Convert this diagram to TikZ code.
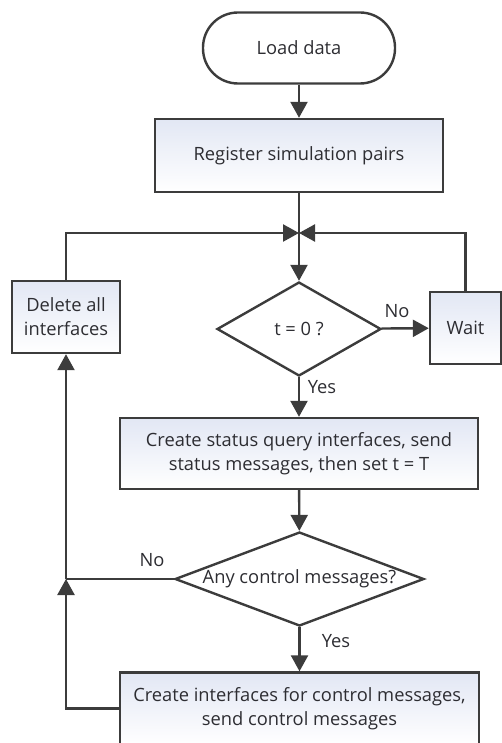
\documentclass[tikz,border=0pt]{standalone}
\usepackage{fontspec}
\setmainfont{Open Sans}
\usetikzlibrary{arrows.meta,shapes.geometric,calc}
\definecolor{ln}{RGB}{60,60,60}
\definecolor{tx}{RGB}{45,45,50}
\definecolor{boxtop}{RGB}{226,231,244}
\begin{document}
\begin{tikzpicture}[x=1pt,y=1pt,
  every node/.style={font=\fontsize{18.3}{24}\selectfont, text=tx},
  flowline/.style={draw=ln, line width=2.4pt},
  arr/.style={flowline, -{Triangle[length=16pt,width=17pt]}},
  procbox/.style={draw=ln, line width=2.4pt, rectangle, top color=boxtop, bottom color=white, align=center, inner sep=2pt},
  termbox/.style={draw=ln, line width=2.4pt, rectangle, rounded corners=35pt, fill=white, align=center},
  decbox/.style={draw=ln, line width=2.4pt, diamond, fill=white, inner sep=0pt},
  lbl/.style={inner sep=1pt}
]
\useasboundingbox (0,0) rectangle (502,-743);
\begin{scope}
\clip (0,0) rectangle (502,-743);
\node[termbox, minimum width=192pt, minimum height=71pt] (load) at (299,-48) {Load data};
\node[procbox, minimum width=288pt, minimum height=73pt] (reg) at (299,-155.5) {Register simulation pairs};
\coordinate (junc) at (299,-233);
\node[decbox, minimum width=164pt, minimum height=94pt] (t0) at (299,-329) {};
\node[lbl] (t0txt) at (t0.center) {t = 0 ?};
\node[procbox, minimum width=108pt, minimum height=72pt] (del) at (66,-317) {Delete all\\interfaces};
\node[procbox, minimum width=71pt, minimum height=72pt] (wait) at (465.5,-328) {Wait};
\node[procbox, minimum width=358pt, minimum height=71pt] (status) at (299,-453.5) {Create status query interfaces, send\\status messages, then set t = T};
\node[decbox, minimum width=249pt, minimum height=94pt] (cm) at (299.5,-579) {};
\node[lbl] (cmtxt) at (cm.center) {Any control messages?};
\node[procbox, minimum width=359pt, minimum height=72pt] (ctrl) at (299.5,-708.5) {Create interfaces for control messages,\\send control messages};
\coordinate (j2) at (66,-579);

\draw[arr] (load) -- (reg);
\draw[arr] (reg) -- (t0);
\draw[arr] (del.north) |- (junc);
\draw[arr] (wait.north) |- (junc);
\draw[arr] (t0) -- (wait);
\draw[arr] (t0) -- (status);
\draw[arr] (status) -- (cm);
\draw[arr] (cm) -- (ctrl);
\draw[flowline] (cm.west) -- (j2);
\draw[arr] (ctrl.west) -| (j2);
\draw[arr] (j2) -- (del.south);

\node[lbl] (no1) at (397,-311) {No};
\node[lbl] (yes1) at (322,-387) {Yes};
\node[lbl] (no2) at (152,-560) {No};
\node[lbl] (yes2) at (336,-641) {Yes};
\end{scope}
\end{tikzpicture}
\end{document}
